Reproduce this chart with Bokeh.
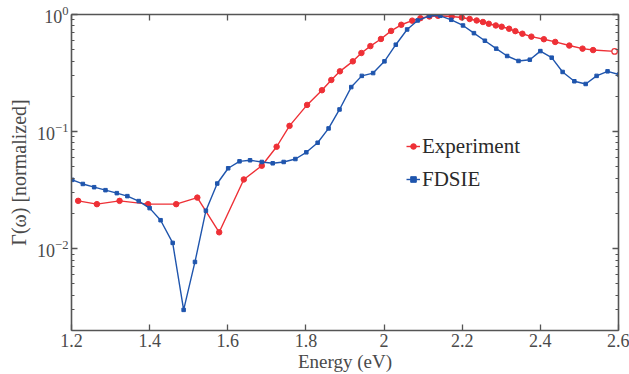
from bokeh.plotting import figure
from bokeh.models import Range1d, FixedTicker, LogAxis, LinearAxis, Legend, LegendItem
from bokeh.embed import file_html
from bokeh.resources import INLINE

# ---- data ----
exp_x = [1.217, 1.265, 1.323, 1.396, 1.468, 1.522, 1.578, 1.641, 1.687, 1.725,
         1.758, 1.803, 1.841, 1.865, 1.887, 1.920, 1.942, 1.965, 1.992, 2.018,
         2.044, 2.072, 2.093, 2.116, 2.138, 2.173, 2.199, 2.219, 2.237, 2.253,
         2.268, 2.286, 2.301, 2.320, 2.336, 2.354, 2.377, 2.409, 2.438, 2.474,
         2.508, 2.535, 2.590]
exp_y = [0.0256, 0.0240, 0.0256, 0.0240, 0.0240, 0.0273, 0.0138, 0.0390, 0.0511, 0.0742,
         0.1119, 0.169, 0.2255, 0.276, 0.327, 0.398, 0.469, 0.537, 0.618, 0.724,
         0.817, 0.886, 0.930, 0.962, 0.975, 0.962, 0.943, 0.916, 0.889, 0.863,
         0.833, 0.806, 0.786, 0.756, 0.721, 0.685, 0.647, 0.615, 0.583, 0.543,
         0.511, 0.497, 0.484]

fd_x = [1.202, 1.229, 1.258, 1.287, 1.316, 1.343, 1.372, 1.400, 1.428, 1.459,
        1.487, 1.516, 1.544, 1.573, 1.601, 1.630, 1.657, 1.687, 1.715, 1.743,
        1.773, 1.801, 1.830, 1.858, 1.886, 1.916, 1.943, 1.972, 2.001, 2.030,
        2.059, 2.086, 2.116, 2.144, 2.172, 2.202, 2.230, 2.258, 2.287, 2.315,
        2.344, 2.373, 2.400, 2.429, 2.457, 2.487, 2.516, 2.544, 2.572, 2.601]
fd_y = [0.0387, 0.0357, 0.0335, 0.0316, 0.0298, 0.0281, 0.0255, 0.0222, 0.0175, 0.0112,
        0.0030, 0.0077, 0.0211, 0.0360, 0.0486, 0.0557, 0.0569, 0.0550, 0.0536, 0.0550,
        0.0583, 0.0665, 0.0803, 0.1064, 0.1545, 0.240, 0.299, 0.316, 0.398, 0.552,
        0.745, 0.889, 0.975, 0.975, 0.901, 0.806, 0.693, 0.597, 0.511, 0.442,
        0.401, 0.411, 0.487, 0.428, 0.323, 0.269, 0.255, 0.299, 0.327, 0.307]

x_ticks = [1.2, 1.4, 1.6, 1.8, 2.0, 2.2, 2.4, 2.6]
x_tick_labels = ["1.2", "1.4", "1.6", "1.8", "2", "2.2", "2.4", "2.6"]
y_ticks = [0.01, 0.1, 1.0]
y_minor_ticks = [0.002, 0.003, 0.004, 0.005, 0.006, 0.007, 0.008, 0.009,
                 0.02, 0.03, 0.04, 0.05, 0.06, 0.07, 0.08, 0.09,
                 0.2, 0.3, 0.4, 0.5, 0.6, 0.7, 0.8, 0.9]

series_names = ["Experiment", "FDSIE"]
x_title = "Energy (eV)"
y_title = "Γ(ω) [normalized]"

RED = "#ee3036"
BLUE = "#1f55ad"
AX = "#555555"
TXT = "#4a4a4a"
FONT = "Liberation Serif"

p = figure(width=629, height=374, output_backend="svg", toolbar_location=None,
           y_axis_type="log",
           x_range=Range1d(1.2, 2.6), y_range=Range1d(0.002, 1.0),
           min_border_left=71, min_border_right=11, min_border_top=14, min_border_bottom=43)
p.outline_line_color = None
p.xgrid.visible = False
p.ygrid.visible = False
p.background_fill_color = "white"
p.border_fill_color = "white"

r1 = p.line(exp_x, exp_y, line_color=RED, line_width=1.4)
r1s = p.scatter(exp_x[:-1], exp_y[:-1], marker="circle", size=5.5, fill_color=RED, line_color=RED)
p.scatter(exp_x[-1:], exp_y[-1:], marker="circle", size=5.5, fill_color="white", line_color=RED, line_width=1.2)
r2 = p.line(fd_x, fd_y, line_color=BLUE, line_width=1.4)
r2s = p.scatter(fd_x, fd_y, marker="square", size=3.5, fill_color=BLUE, line_color=BLUE)


def style(ax, show_labels):
    ax.axis_line_color = AX
    ax.axis_line_width = 1.6
    ax.major_tick_line_color = AX
    ax.minor_tick_line_color = AX
    ax.major_tick_line_width = 1.3
    ax.minor_tick_line_width = 1.0
    ax.major_tick_in = 6
    ax.major_tick_out = 0
    ax.minor_tick_in = 3
    ax.minor_tick_out = 0
    ax.major_label_text_font = FONT
    ax.major_label_text_font_size = "18px" if show_labels else "0px"
    ax.major_label_text_color = TXT if show_labels else None
    ax.axis_label_text_font = FONT
    ax.axis_label_text_font_style = "normal"
    ax.axis_label_text_color = TXT
    if not show_labels:
        ax.major_label_standoff = 0


xa = p.xaxis[0]
xa.ticker = FixedTicker(ticks=x_ticks, minor_ticks=[])
xa.major_label_overrides = {t: l for t, l in zip(x_ticks, x_tick_labels)}
xa.major_label_standoff = 3
xa.axis_label = x_title
xa.axis_label_text_font_size = "19px"
xa.axis_label_standoff = 1
style(xa, True)

ya = p.yaxis[0]
ya.ticker = FixedTicker(ticks=y_ticks, minor_ticks=y_minor_ticks)
ya.axis_label = y_title
ya.axis_label_text_font_size = "20px"
ya.axis_label_standoff = 4
ya.major_label_standoff = 3
style(ya, True)

top = LinearAxis(ticker=FixedTicker(ticks=x_ticks, minor_ticks=[]))
style(top, False)
p.add_layout(top, "above")

right = LogAxis(ticker=FixedTicker(ticks=y_ticks, minor_ticks=y_minor_ticks))
style(right, False)
p.add_layout(right, "right")

legend = Legend(items=[LegendItem(label=series_names[0], renderers=[r1, r1s]),
                       LegendItem(label=series_names[1], renderers=[r2, r2s])],
                location=(335, 136))
legend.label_text_font = FONT
legend.label_text_font_size = "21px"
legend.label_text_color = "#2a2a2a"
legend.glyph_width = 14
legend.glyph_height = 30
legend.label_height = 30
legend.label_standoff = 2
legend.spacing = 3
legend.padding = 0
legend.margin = 0
legend.border_line_color = None
legend.background_fill_alpha = 0
p.add_layout(legend, "center")

open("out.html", "w").write(file_html(p, INLINE))
